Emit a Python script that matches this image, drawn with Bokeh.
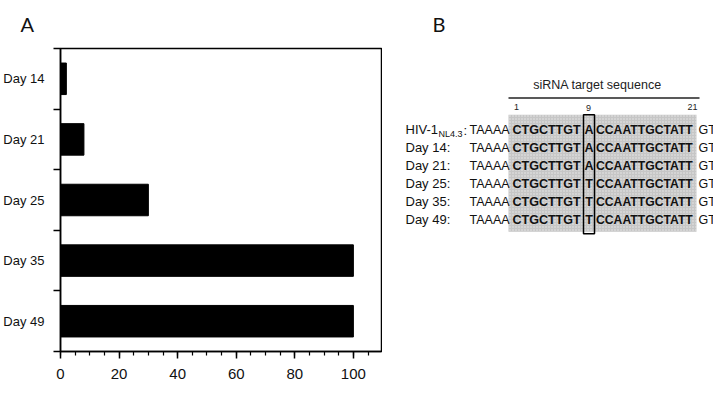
from bokeh.plotting import figure
from bokeh.layouts import row
from bokeh.models import Range1d, FixedTicker, SingleIntervalTicker, Label
from bokeh.core.properties import value
from bokeh.embed import file_html
from bokeh.resources import INLINE

# ---------------- data ----------------
days = ["Day 14", "Day 21", "Day 25", "Day 35", "Day 49"]
replication = [2, 8, 30, 100, 100]
x_label = "HIV-1 replication (%)"

seq_labels = ["HIV-1", "Day 14:", "Day 21:", "Day 25:", "Day 35:", "Day 49:"]
seq_subscripts = ["NL4.3", "", "", "", "", ""]
flank5 = ["TAAAA"] * 6
target_left = ["CTGCTTGT"] * 6
pos9 = ["A", "A", "A", "T", "T", "T"]
target_right = ["CCAATTGCTATT"] * 6
flank3 = ["GT"] * 6
target_title = "siRNA target sequence"
target_ticks = ["1", "9", "21"]

FONT = "Liberation Sans"
INK = "#111111"

def style_title(p, offset):
    p.title.text_font = "Lato"
    p.title.text_font_size = "20px"
    p.title.text_font_style = "normal"
    p.title.text_color = INK
    p.title.align = "left"
    p.title.offset = offset
    p.title.vertical_align = "top"
    p.title.text_line_height = 0.6
    p.title.standoff = 22

# ---------------- panel A ----------------
n = len(days)
ypos = [n - i - 0.5 for i in range(n)]

pA = figure(width=382, height=393, x_range=Range1d(0, 109.6), y_range=Range1d(0, n),
            output_backend="svg", toolbar_location=None, title="A",
            min_border_left=60, min_border_right=1, min_border_top=45, min_border_bottom=42)
pA.grid.visible = False
pA.outline_line_color = "black"
pA.outline_line_width = 1.5
style_title(pA, -40)

pA.hbar(y=ypos, right=replication, left=0, height=0.52, fill_color="black", line_color="black")

ya = pA.yaxis[0]
ya.ticker = FixedTicker(ticks=ypos, minor_ticks=list(range(n + 1)))
ya.major_label_overrides = {y: d for y, d in zip(ypos, days)}
ya.major_tick_out = 0
ya.major_tick_in = 0
ya.minor_tick_out = 7
ya.minor_tick_in = 0
ya.minor_tick_line_color = "black"
ya.minor_tick_line_width = 1.5
ya.axis_line_width = 1.5
ya.axis_line_color = "black"
ya.major_label_standoff = 9
ya.major_label_text_font = FONT
ya.major_label_text_font_size = "13px"
ya.major_label_text_color = INK

xa = pA.xaxis[0]
xa.ticker = SingleIntervalTicker(interval=20, num_minor_ticks=4)
xa.major_tick_out = 7
xa.major_tick_in = 0
xa.minor_tick_out = 4
xa.minor_tick_in = 0
xa.major_tick_line_width = 1.5
xa.minor_tick_line_width = 1.2
xa.major_tick_line_color = "black"
xa.minor_tick_line_color = "black"
xa.axis_line_width = 1.5
xa.axis_line_color = "black"
xa.major_label_standoff = 10
xa.major_label_text_font = FONT
xa.major_label_text_font_size = "15px"
xa.major_label_text_color = INK

pA.add_layout(Label(x=55, y=-0.6, text=x_label, text_font=FONT, text_font_size="13px",
                    text_color="#333333", text_baseline="top", text_align="center"))

# ---------------- panel B ----------------
# data space in page pixels: frame is aligned with panel A's frame (y 45..351)
pB = figure(width=331, height=393, x_range=Range1d(382, 713), y_range=Range1d(351, 45),
            x_axis_type=None, y_axis_type=None, output_backend="svg", toolbar_location=None,
            title="B", min_border_left=0, min_border_right=0, min_border_top=45,
            min_border_bottom=42)
pB.grid.visible = False
pB.outline_line_color = None
style_title(pB, 50)

row_y0, row_dy = 127, 18.2
rows_y = [row_y0 + i * row_dy for i in range(len(seq_labels))]

# shaded target region and box around position 9
pB.quad(left=[508], right=[696], top=[112], bottom=[230], fill_color="#c6c6c6",
        hatch_pattern="dot", hatch_color="white", hatch_alpha=0.6, hatch_scale=3,
        line_color=None)
pB.quad(left=[583], right=[594], top=[112], bottom=[232], fill_color=None,
        line_color="black", line_width=1.5)

# title and overline
pB.text(x=[597], y=[82], text=[target_title], text_font=value(FONT), text_font_size="12.5px",
        text_align="center", text_baseline="middle", text_color="#222222")
pB.segment(x0=[508], x1=[699], y0=[95], y1=[95], line_color="#222222", line_width=1.5)
pB.text(x=[516, 588, 692], y=[104, 105, 104], text=target_ticks, text_font=value(FONT),
        text_font_size="9px", text_align="center", text_baseline="middle", text_color="#222222")

# row labels
pB.text(x=[405] * len(rows_y), y=rows_y, text=seq_labels, text_font=value(FONT),
        text_font_size="13px", text_baseline="middle", text_align="left", text_color=INK)
pB.text(x=[438], y=[rows_y[0] + 4], text=[seq_subscripts[0]], text_font=value(FONT),
        text_font_size="9px", text_baseline="middle", text_align="left", text_color=INK)
pB.text(x=[463], y=[rows_y[0] + 1], text=[":"], text_font=value(FONT),
        text_font_size="13px", text_baseline="middle", text_align="left", text_color=INK)

def seg(xs, texts, bold, size="12.5px"):
    pB.text(x=[xs] * len(rows_y), y=rows_y, text=texts, text_font=value(FONT),
            text_font_size=size, text_baseline="middle", text_align="left",
            text_font_style="bold" if bold else "normal", text_color=INK)

seg(469, flank5, False)
seg(512, target_left, True)
pB.text(x=[588.5] * len(rows_y), y=rows_y, text=pos9, text_font=value(FONT),
        text_font_size="12.5px", text_baseline="middle", text_align="center",
        text_font_style="bold", text_color=INK)
seg(595.5, target_right, True, "12.2px")
seg(698, flank3, False)

layout = row(pA, pB)
open("out.html", "w").write(file_html(layout, INLINE))
